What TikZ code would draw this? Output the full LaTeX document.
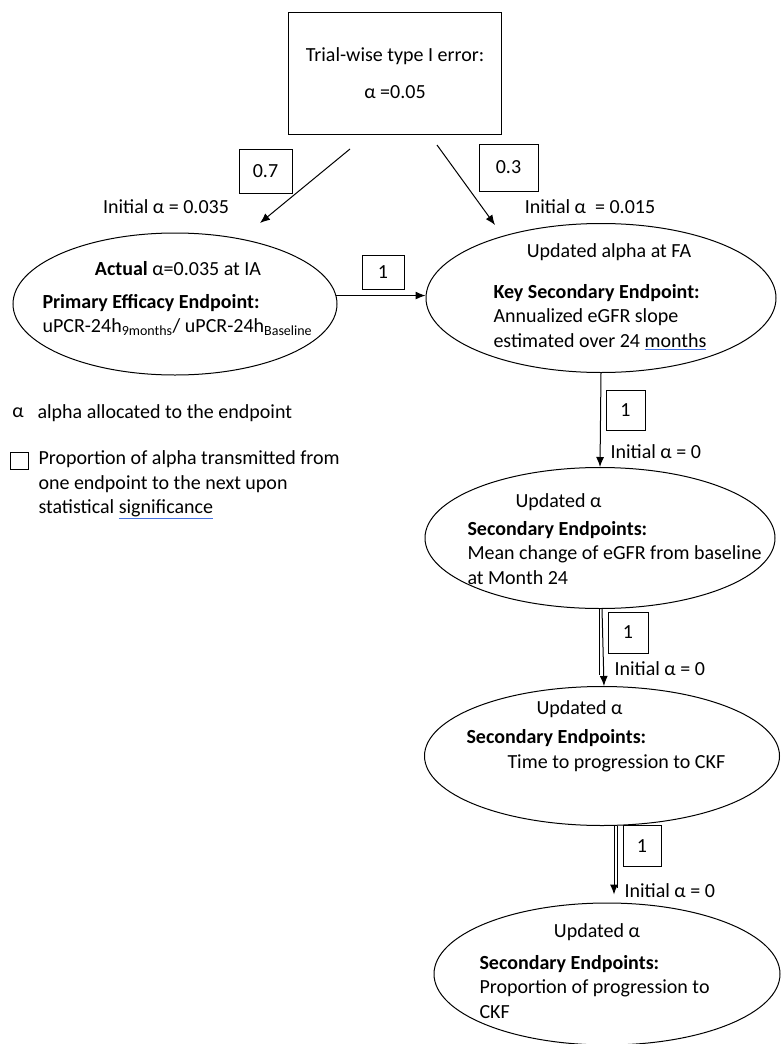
\documentclass[tikz,border=0pt]{standalone}
\usepackage{fontspec}
\setmainfont{Carlito}
\usetikzlibrary{shapes.geometric,arrows.meta}
\definecolor{spell}{RGB}{68,114,228}
\newcommand{\spellmark}[1]{\textcolor{spell}{\underline{\textcolor{black}{#1}}}}

\begin{document}
\begin{tikzpicture}[x=1pt, y=-1pt, line width=1pt, >={Latex[length=10pt,width=8pt]},
  every node/.style={inner sep=0pt, font=\fontsize{20}{24.5}\selectfont},
  endpt/.style={ellipse, draw},
  wbox/.style={draw, rectangle}]
\useasboundingbox (0,0) rectangle (780,1044);
\node (total)[wbox, minimum width=213pt, minimum height=122pt, align=center] at (395,73) {Trial-wise type I error:\\[12pt]α =0.05};
\node (pe)[endpt, minimum width=324pt, minimum height=142pt] at (175,304) {};
\node (kse)[endpt, minimum width=350pt, minimum height=149pt] at (601,298) {};
\node (se1)[endpt, minimum width=350pt, minimum height=141pt] at (600,538) {};
\node (se2)[endpt, minimum width=355pt, minimum height=139pt] at (602,756) {};
\node (se3)[endpt, minimum width=346pt, minimum height=142pt] at (607,974) {};
% texts in the endpoints
\node (pe1) at (178,269) {\textbf{Actual} α=0.035 at IA};
\node (pe2)[anchor=west, align=left] at (42,315) {\textbf{Primary Efficacy Endpoint:}\\uPCR-24h\textsubscript{9months}/ uPCR-24h\textsubscript{Baseline}};
\node (kse1) at (609,252) {Updated alpha at FA};
\node (kse2)[anchor=west, align=left] at (493,317) {\textbf{Key Secondary Endpoint:}\\Annualized eGFR slope\\estimated over 24 \spellmark{months}};
\node (se11)[anchor=west] at (515,502) {Updated α};
\node (se12)[anchor=west, align=left] at (467,553) {\textbf{Secondary Endpoints:}\\Mean change of eGFR from baseline\\at Month 24};
\node (se21)[anchor=west] at (536,709) {Updated α};
\node (se22)[anchor=west] at (466,738) {\textbf{Secondary Endpoints:}};
\node (se23)[anchor=west] at (507,763) {Time to progression to CKF};
\node (se31) at (597,932) {Updated α};
\node (se32)[anchor=west, align=left] at (479,987) {\textbf{Secondary Endpoints:}\\Proportion of progression to\\CKF};
% initial alpha
\node (in1) at (166,207) {Initial α = 0.035};
\node (in2) at (590,207) {Initial α~ = 0.015};
\node (in3)[anchor=west] at (610,452) {Initial α = 0};
\node (in4)[anchor=west] at (614,669) {Initial α = 0};
\node (in5)[anchor=west] at (624,891) {Initial α = 0};
% weights
\node (w1)[wbox, minimum width=53pt, minimum height=44pt] at (265.5,171) {0.7};
\node (w2)[wbox, minimum width=59pt, minimum height=47pt] at (508.5,167.5) {0.3};
\node (w3)[wbox, minimum width=42pt, minimum height=34pt] at (383,272) {1};
\node (w4)[wbox, minimum width=39pt, minimum height=40pt] at (625.5,410) {1};
\node (w5)[wbox, minimum width=40pt, minimum height=41pt] at (628,632.5) {1};
\node (w6)[wbox, minimum width=38pt, minimum height=41pt] at (642,846) {1};
% legend
\node (la)[anchor=west] at (12,413) {α};
\node (lb)[anchor=west] at (37,413) {alpha allocated to the endpoint};
\node (lc)[draw, minimum width=18pt, minimum height=17pt] at (19,461) {};
\node (ld)[anchor=west, align=left] at (38,485) {Proportion of alpha transmitted from\\one endpoint to the next upon\\statistical \spellmark{significance}};
% arrows
\coordinate (t1) at (350,149);
\coordinate (h1) at (260,223);
\coordinate (t2) at (437,145);
\coordinate (h2) at (495,225);
\draw[->] (t1) -- (h1);
\draw[->] (t2) -- (h2);
\draw[->] (pe.3) -- (pe.3 -| kse.west);
\draw[->] (kse.south) -- (se1.north);
\draw[->] ([xshift=2pt]se1.south) -- ([xshift=2pt]se2.north);
\draw ([xshift=-1pt]se1.south) -- ++(0,66);
\draw[->] ([xshift=12pt]se2.south) -- ([xshift=7pt, yshift=8pt]se3.north);
\draw ([xshift=15pt]se2.south) -- ++(0,62);
\end{tikzpicture}
\end{document}
